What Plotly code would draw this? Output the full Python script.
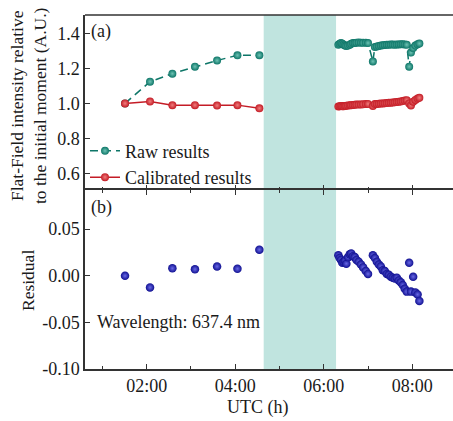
import plotly.graph_objects as go

# ---- data ---------------------------------------------------------------
# observation times (decimal hours, UTC)
t_early = [1.51, 2.075, 2.58, 3.09, 3.59, 4.05, 4.545]
t_late = [6.33, 6.36, 6.39, 6.42, 6.45, 6.48, 6.51, 6.55, 6.59, 6.62, 6.66, 6.70,
          6.74, 6.79, 6.84, 6.89, 6.95, 7.00,
          7.11, 7.155, 7.20, 7.245, 7.29, 7.335, 7.38, 7.425, 7.47, 7.515, 7.56,
          7.605, 7.65, 7.695, 7.74, 7.785, 7.83, 7.875,
          7.93, 7.97, 8.02, 8.07, 8.12, 8.16]

# relative flat-field intensity before calibration
raw_early = [1.0, 1.124, 1.17, 1.21, 1.245, 1.275, 1.275]
raw_late = [1.335, 1.34, 1.345, 1.34, 1.335, 1.33, 1.328, 1.33, 1.335, 1.34, 1.345, 1.345,
            1.347, 1.348, 1.347, 1.346, 1.347, 1.345,
            1.24, 1.322, 1.325, 1.328, 1.33, 1.332, 1.334, 1.335, 1.335, 1.336, 1.336,
            1.335, 1.336, 1.337, 1.338, 1.338, 1.337, 1.335,
            1.21, 1.29, 1.316, 1.33, 1.338, 1.342]

# relative flat-field intensity after calibration
cal_early = [1.0, 1.011, 0.99, 0.99, 0.988, 0.99, 0.972]
cal_late = [0.982, 0.984, 0.985, 0.984, 0.983, 0.985, 0.986, 0.988, 0.99, 0.99, 0.991, 0.992,
            0.993, 0.993, 0.994, 0.995, 0.996, 0.997,
            0.985, 0.996, 0.997, 0.998, 0.999, 1.0, 1.001, 1.002, 1.003, 1.004, 1.005,
            1.006, 1.008, 1.009, 1.011, 1.013, 1.016, 1.018,
            1.0, 0.988, 1.01, 1.02, 1.028, 1.032]

# residuals
res_early = [0.0, -0.0125, 0.008, 0.007, 0.010, 0.0075, 0.028]
res_late = [0.022, 0.019, 0.017, 0.014, 0.015, 0.016, 0.013, 0.020, 0.023, 0.024, 0.021, 0.020,
            0.017, 0.015, 0.012, 0.009, 0.005, 0.002,
            0.022, 0.019, 0.015, 0.012, 0.010, 0.006, 0.005, 0.002, 0.001, -0.001, -0.002,
            -0.003, -0.002, -0.005, -0.007, -0.010, -0.014, -0.017,
            0.014, -0.017, -0.001, -0.018, -0.020, -0.027]

# data gap (no observations)
gap_start, gap_end = 4.643, 6.278

# axis ticks
x_ticks = [2, 4, 6, 8]
x_ticktext = ["02:00", "04:00", "06:00", "08:00"]
x_minor = [1, 3, 5, 7]
ya_ticks = [0.6, 0.8, 1.0, 1.2, 1.4]
ya_ticktext = ["0.6", "0.8", "1.0", "1.2", "1.4"]
yb_ticks = [-0.10, -0.05, 0.0, 0.05]
yb_ticktext = ["-0.10", "-0.05", "0.00", "0.05"]

# ---- style ----------------------------------------------------------------
FONT = "Liberation Serif, Times New Roman, serif"
TXT = "#1a1a1a"
AXC = "#333333"
TEAL, TEAL_HI = "rgb(14,118,104)", "rgb(110,195,180)"
RED, RED_HI = "rgb(196,28,38)", "rgb(240,125,125)"
BLUE, BLUE_HI = "rgb(16,16,145)", "rgb(105,105,230)"

L, R, T, B = 85, 0, 15, 52
W, H = 453, 421
plot_h = H - T - B
split = 179 / plot_h


def joined(a, b):
    return list(a) + [None] + list(b)


fig = go.Figure()

fig.add_trace(go.Scatter(
    x=joined(t_early, t_late), y=joined(raw_early, raw_late),
    mode="lines+markers", name="Raw results",
    line=dict(color=TEAL, width=1.5, dash="8px,5px"),
    marker=dict(size=8, color=TEAL, gradient=dict(type="radial", color=TEAL_HI)),
    xaxis="x", yaxis="y", connectgaps=False,
))
fig.add_trace(go.Scatter(
    x=joined(t_early, t_late), y=joined(cal_early, cal_late),
    mode="lines+markers", name="Calibrated results",
    line=dict(color=RED, width=1.5),
    marker=dict(size=8, color=RED, gradient=dict(type="radial", color=RED_HI)),
    xaxis="x", yaxis="y", connectgaps=False,
))
fig.add_trace(go.Scatter(
    x=t_early + t_late, y=res_early + res_late,
    mode="markers", showlegend=False,
    marker=dict(size=8.5, color=BLUE, gradient=dict(type="radial", color=BLUE_HI)),
    xaxis="x2", yaxis="y2",
))

x_range = [0.606, 8.92]
common_x = dict(
    range=x_range, linecolor=AXC, linewidth=1.5,
    ticks="inside", ticklen=5, tickwidth=1.2, tickcolor=AXC,
    tickmode="array", tickvals=x_ticks, ticktext=x_ticktext,
    minor=dict(tickvals=x_minor, ticks="inside", ticklen=3, tickwidth=1.2, tickcolor=AXC),
    showgrid=False, zeroline=False,
    tickfont=dict(family=FONT, size=18, color=TXT),
)

fig.update_layout(
    width=W, height=H,
    margin=dict(l=L, r=R, t=T, b=B),
    paper_bgcolor="white", plot_bgcolor="white",
    font=dict(family=FONT, size=18, color=TXT),
    # upper panel: only its ticks on the shared divider; the line comes from the lower panel
    xaxis=dict(common_x, anchor="y", showline=False, showticklabels=False),
    yaxis=dict(
        domain=[split, 1], range=[0.505, 1.505], anchor="x",
        showline=True, linecolor=AXC, linewidth=1.5,
        ticks="inside", ticklen=5, tickwidth=1.2, tickcolor=AXC,
        tickmode="array", tickvals=ya_ticks, ticktext=ya_ticktext,
        showgrid=False, zeroline=False,
        tickfont=dict(family=FONT, size=18, color=TXT),
    ),
    xaxis2=dict(common_x, anchor="y2", matches="x", showline=True, mirror="ticks"),
    yaxis2=dict(
        domain=[0, split], range=[-0.1, 0.092], anchor="x2",
        showline=True, linecolor=AXC, linewidth=1.5,
        ticks="inside", ticklen=5, tickwidth=1.2, tickcolor=AXC,
        tickmode="array", tickvals=yb_ticks, ticktext=yb_ticktext,
        showgrid=False, zeroline=False,
        tickfont=dict(family=FONT, size=18, color=TXT),
    ),
    legend=dict(
        x=0.0, y=0.668, xanchor="left", yanchor="top",
        bgcolor="rgba(0,0,0,0)", borderwidth=0,
        font=dict(family=FONT, size=18, color=TXT),
        itemwidth=30, tracegroupgap=0,
    ),
    showlegend=True,
)

# shaded interval without observations, across both panels
fig.add_shape(type="rect", xref="x", yref="paper",
              x0=gap_start, x1=gap_end, y0=0, y1=1,
              fillcolor="rgb(192,228,223)", line=dict(width=0), layer="below")
# top frame line of the upper panel
fig.add_shape(type="line", xref="paper", yref="paper",
              x0=0, x1=1, y0=1, y1=1, line=dict(color=AXC, width=1.5), layer="above")


def px_x(p):
    return (p - L) / (W - L - R)


def px_y(p):
    return (H - B - p) / plot_h


annots = [
    dict(text="(a)", x=px_x(89), y=px_y(32), xanchor="left", yanchor="middle"),
    dict(text="(b)", x=px_x(89), y=px_y(207), xanchor="left", yanchor="middle"),
    dict(text="Wavelength: 637.4 nm", x=px_x(95), y=px_y(322), xanchor="left", yanchor="middle"),
    dict(text="UTC (h)", x=px_x(258), y=px_y(407), xanchor="center", yanchor="middle"),
    dict(text="Flat-Field intensity relative<br>to the initial moment (A.U.)",
         x=px_x(28), y=px_y(106), xanchor="center", yanchor="middle", textangle=-90,
         font=dict(family=FONT, size=17.5, color=TXT)),
    dict(text="Residual", x=px_x(28), y=px_y(281), xanchor="center", yanchor="middle",
         textangle=-90, font=dict(family=FONT, size=17.5, color=TXT)),
]
for a in annots:
    a.setdefault("font", dict(family=FONT, size=18, color=TXT))
    fig.add_annotation(xref="paper", yref="paper", showarrow=False, **a)

fig.write_html("out.html")
